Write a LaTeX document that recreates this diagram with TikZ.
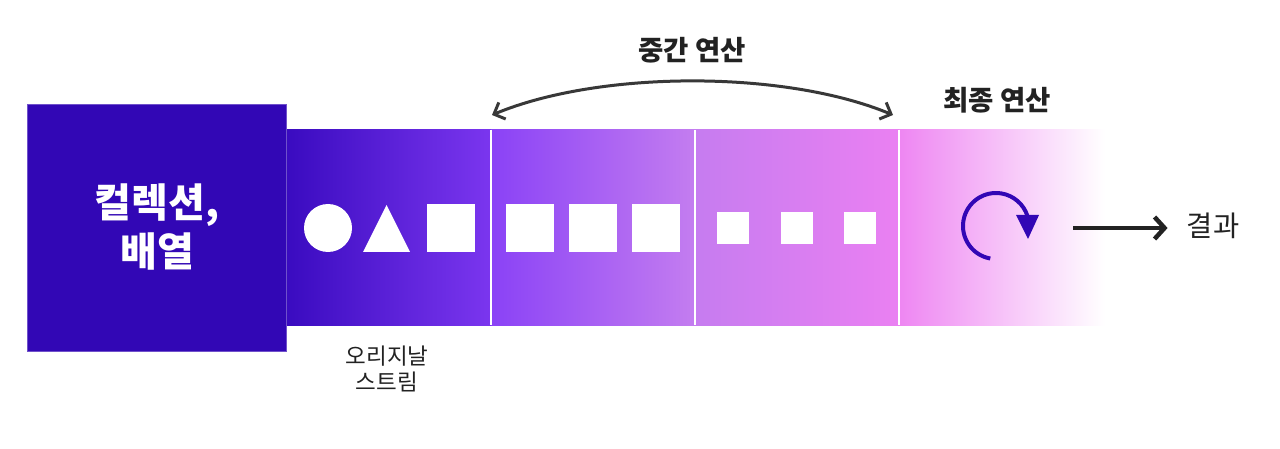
\documentclass[tikz,border=0pt]{standalone}
\usepackage{fontspec}
\newfontfamily\kr{Noto Sans CJK KR}
\usetikzlibrary{arrows.meta,calc}
\definecolor{indigo}{HTML}{3207B5}
\definecolor{txt}{HTML}{222222}
\definecolor{aone}{HTML}{3A0BC0}
\definecolor{bone}{HTML}{7B36EF}
\definecolor{atwo}{HTML}{8A42F6}
\definecolor{btwo}{HTML}{C47DF0}
\definecolor{athree}{HTML}{C67CF0}
\definecolor{bthree}{HTML}{EA80F2}
\definecolor{afour}{HTML}{EE86F2}
\begin{document}
\begin{tikzpicture}[x=1pt,y=-1pt,
  seg/.style={minimum height=195pt, minimum width=204pt, inner sep=0pt, draw=none},
  wsq/.style={fill=white, draw=none, inner sep=0pt, minimum size=48pt},
  ssq/.style={fill=white, draw=none, inner sep=0pt, minimum size=32pt},
  divider/.style={white, line width=1.6pt},
  lbl/.style={font=\kr\bfseries\fontsize{27.5}{32}\selectfont, text=txt, inner sep=0pt},
  darr/.style={draw=txt!90, line width=3pt, line cap=round},
]
\useasboundingbox (0,0) rectangle (1280,449);

% left box
\node[fill=indigo, draw=indigo!70!white, line width=0.6pt, minimum width=259pt, minimum height=247pt, inner sep=0pt] (colbox) at (156.5,227.5) {};
\node[text=white, font=\kr\bfseries\fontsize{40}{49}\selectfont, align=center, inner sep=0pt] (col) at (157,227) {컬렉션,\\배열};

% strip segments
\node[seg, left color=aone, right color=bone] (s1) at (389,227.5) {};
\node[seg, left color=atwo, right color=btwo] (s2) at (593,227.5) {};
\node[seg, left color=athree, right color=bthree] (s3) at (797,227.5) {};
\node[seg, minimum width=206pt, left color=afour, right color=white] (s4) at (1002,227.5) {};
\draw[divider] (s1.north east) -- (s1.south east);
\draw[divider] (s2.north east) -- (s2.south east);
\draw[divider] (s3.north east) -- (s3.south east);

% segment 1 shapes
\node[circle, fill=white, inner sep=0pt, minimum size=48pt] (c1) at (328,228) {};
\fill[white] (363,252) -- (386.5,205) -- (410,252) -- cycle;
\node[wsq] (q1) at (451,228) {};
% segment 2 squares
\node[wsq] (q2) at (530,228) {};
\node[wsq] (q3) at (593,228) {};
\node[wsq] (q4) at (656,228) {};
% segment 3 small squares
\node[ssq] (r1) at (733,228) {};
\node[ssq] (r2) at (796.5,228) {};
\node[ssq] (r3) at (859.5,228) {};

% circular arrow
\coordinate (cc) at (996,226);
\draw[indigo, line width=4pt] ($(cc)+(100:33)$) arc[start angle=100, end angle=342, radius=33];
\fill[indigo] (1016,215) -- (1039,215) -- (1028,239) -- cycle;

% labels
\node[lbl] (mid) at (692,50) {중간 연산};
\node[lbl] (fin) at (997,100) {최종 연산};
\node[font=\kr\fontsize{22.5}{26}\selectfont, text=txt, align=center, inner sep=0pt] (orig) at (387,369) {오리지날\\스트림};
\node[font=\kr\fontsize{28.5}{32}\selectfont, text=txt, inner sep=0pt] (res) at (1213,226) {결과};

% double curved arrow
\coordinate (m1) at (492,115);
\coordinate (m2) at (893,115);
\draw[darr, {Straight Barb[length=9pt,width=18pt]}-{Straight Barb[length=9pt,width=18pt]}] (m1) .. controls (600,70) and (785,70) .. (m2);

% result arrow
\coordinate (a0) at (1073,228);
\draw[draw=txt, line width=4.5pt, -{Straight Barb[length=10pt,width=22pt]}, shorten >=19pt] (a0) -- (res.west |- a0);
\end{tikzpicture}
\end{document}
